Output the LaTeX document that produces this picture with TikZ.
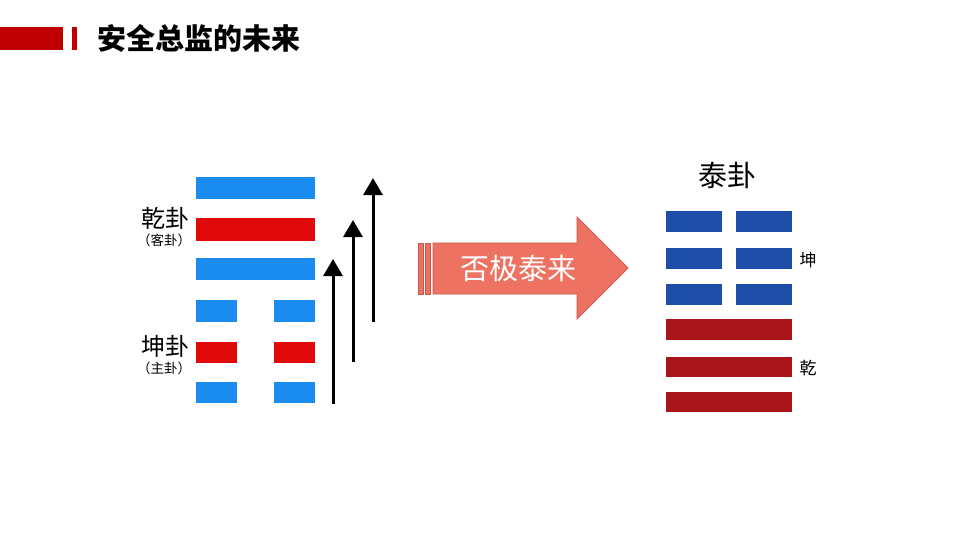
\documentclass[tikz,border=0pt]{standalone}
\usepackage{fontspec}
\newfontfamily\cjk{Noto Sans CJK SC}
\usetikzlibrary{arrows.meta,shapes.arrows}
\definecolor{lblue}{HTML}{1A8CF0}
\definecolor{lred}{HTML}{E00A0A}
\definecolor{dblue}{HTML}{1F4EA8}
\definecolor{dred}{HTML}{A8161C}
\definecolor{salmon}{HTML}{EE7262}
\definecolor{salmonedge}{HTML}{C8584C}
\definecolor{titlered}{HTML}{C00000}
\tikzset{
  bar/.style={fill=#1, draw=none},
  lbl/.style={font=\cjk, inner sep=0pt},
  uparrow/.style={line width=3pt, -{Triangle[width=19pt,length=17pt]}}
}
\begin{document}
\begin{tikzpicture}[x=1pt,y=-1pt]
\useasboundingbox (0,0) rectangle (960,540);
\fill[white] (0,0) rectangle (960,540);
% title
\fill[titlered] (0,27) rectangle (63,50);
\fill[titlered] (72,27) rectangle (77,50);
\node[lbl, anchor=west, font=\cjk\bfseries\fontsize{29}{29}\selectfont] (title) at (97,38) {安全总监的未来};
% left hexagram
\fill[lblue] (196,177) rectangle (315,199);
\fill[lred] (196,218) rectangle (315,241);
\fill[lblue] (196,258) rectangle (315,280);
\fill[lblue] (196,300) rectangle (237,322);
\fill[lblue] (274,300) rectangle (315,322);
\fill[lred] (196,342) rectangle (237,363);
\fill[lred] (274,342) rectangle (315,363);
\fill[lblue] (196,382) rectangle (237,403);
\fill[lblue] (274,382) rectangle (315,403);
\node[lbl, font=\cjk\fontsize{24}{24}\selectfont] (qiangua) at (165,218) {乾卦};
\node[lbl, font=\cjk\fontsize{13.5}{13.5}\selectfont] (kegua) at (164,240) {（客卦）};
\node[lbl, font=\cjk\fontsize{24}{24}\selectfont] (kungua) at (165,346) {坤卦};
\node[lbl, font=\cjk\fontsize{13.5}{13.5}\selectfont] (zhugua) at (164,368) {（主卦）};
% up arrows
\coordinate (a1s) at (333,404); \coordinate (a1e) at (333,259);
\coordinate (a2s) at (353,362); \coordinate (a2e) at (353,220);
\coordinate (a3s) at (373,322); \coordinate (a3e) at (373,178);
\draw[uparrow] (a1s) -- (a1e);
\draw[uparrow] (a2s) -- (a2e);
\draw[uparrow] (a3s) -- (a3e);
% big arrow
\fill[salmon, draw=salmonedge, line width=0.8pt] (418,243) rectangle (423,294);
\fill[salmon, draw=salmonedge, line width=0.8pt] (425,243) rectangle (430,294);
\draw[fill=salmon, draw=salmonedge, line width=0.8pt]
  (433,243) -- (577,243) -- (577,217) -- (628,268) -- (577,319) -- (577,294) -- (433,294) -- cycle;
\node[lbl, text=white, font=\cjk\fontsize{29}{29}\selectfont] (pijitailai) at (518,268) {否极泰来};
% right hexagram
\node[lbl, font=\cjk\fontsize{29}{29}\selectfont] (taigua) at (727,175) {泰卦};
\fill[dblue] (666,211) rectangle (722,232);
\fill[dblue] (736,211) rectangle (792,232);
\fill[dblue] (666,248) rectangle (722,269);
\fill[dblue] (736,248) rectangle (792,269);
\fill[dblue] (666,284) rectangle (722,305);
\fill[dblue] (736,284) rectangle (792,305);
\fill[dred] (666,319) rectangle (792,340);
\fill[dred] (666,357) rectangle (792,377);
\fill[dred] (666,392) rectangle (792,412);
\node[lbl, font=\cjk\fontsize{17}{17}\selectfont] (kun) at (808,260) {坤};
\node[lbl, font=\cjk\fontsize{17}{17}\selectfont] (qian) at (808,368) {乾};
\end{tikzpicture}
\end{document}
